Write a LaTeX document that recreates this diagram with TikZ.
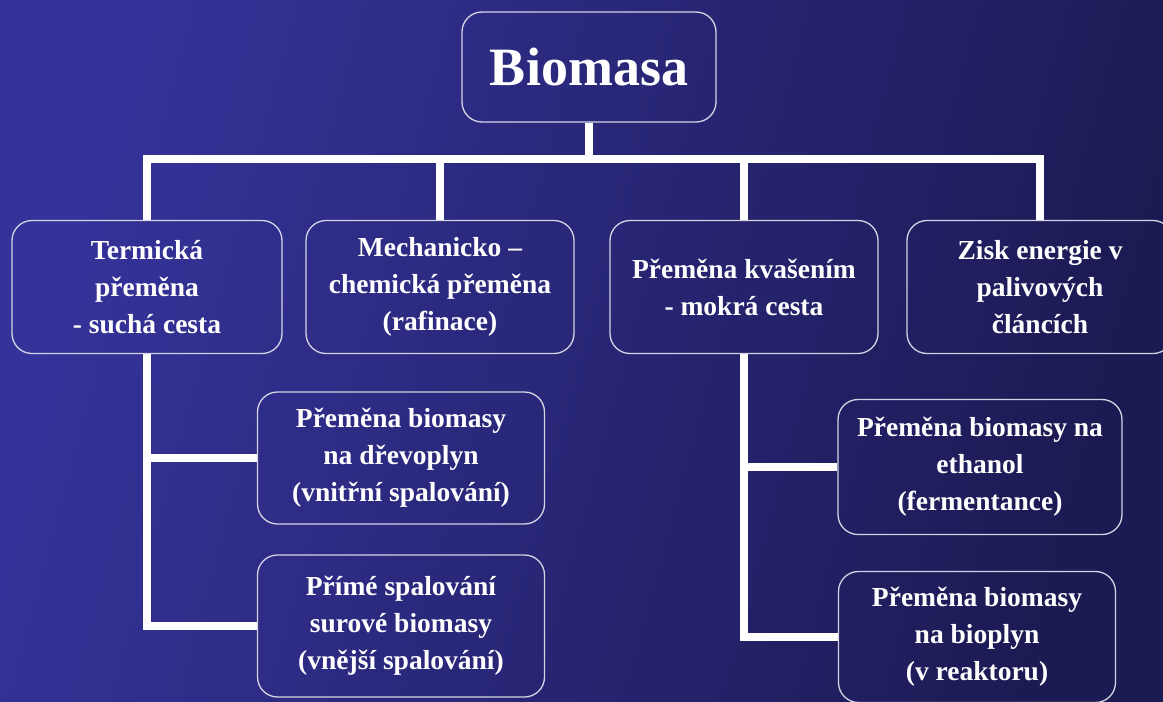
\documentclass[tikz,border=0pt]{standalone}
\usepackage{fontspec}
\setmainfont{Liberation Serif}
\usetikzlibrary{backgrounds}

\definecolor{bgdark}{HTML}{1C1A52}
\definecolor{bglight}{HTML}{35339A}
\definecolor{rim}{HTML}{D4D4E4}

\tikzset{
  box/.style={draw=rim, line width=1.3pt, rounded corners=20pt, text=white,
    align=center, inner sep=0pt, font=\bfseries\fontsize{27.5}{37}\selectfont},
  conn/.style={draw=white, line width=8pt, line join=miter},
}

\begin{document}
\begin{tikzpicture}[x=1pt, y=-1pt]
    \useasboundingbox (0,0) rectangle (1163,702);
    \clip (0,0) rectangle (1163,702);
    \node[box, minimum width=254pt, minimum height=110pt,
          font=\bfseries\fontsize{54}{60}\selectfont] (bio) at (589, 67) {Biomasa};
    \node[box, minimum width=270pt, minimum height=133pt] (term) at ( 147, 287) {Termická\\přeměna\\- suchá cesta};
    \node[box, minimum width=268pt, minimum height=133pt] (mech) at ( 440, 287) {Mechanicko --\\chemická přeměna\\(rafinace)};
    \node[box, minimum width=268pt, minimum height=133pt] (kvas) at ( 744, 287) {Přeměna kvašením\\- mokrá cesta};
    \node[box, minimum width=266pt, minimum height=133pt] (zisk) at (1040, 287) {Zisk energie v\\palivových\\článcích};
    \node[box, minimum width=287pt, minimum height=132pt] (drevo) at (401, 458) {Přeměna biomasy\\na dřevoplyn\\(vnitřní spalování)};
    \node[box, minimum width=287pt, minimum height=142pt] (prime) at (401, 626) {Přímé spalování\\surové biomasy\\(vnější spalování)};
    \node[box, minimum width=284pt, minimum height=135pt] (etha) at (980, 467) {Přeměna biomasy na\\ethanol\\(fermentance)};
    \node[box, minimum width=277pt, minimum height=131pt] (bioplyn) at (977, 637) {Přeměna biomasy\\na bioplyn\\(v reaktoru)};
    \path (bio.south) ++(0,36) coordinate (bar);

    \begin{scope}[on background layer]
      \shade[left color=bglight, right color=bgdark, shading angle=75] (0,0) rectangle (1163,702);
      % top level
      \draw[conn] (bio.south) -- (bar);
      \draw[conn] (term.north) |- (bar) -| (zisk.north);
      \draw[conn] (mech.north) -- (mech.north |- bar);
      \draw[conn] (kvas.north) -- (kvas.north |- bar);
      % dry branch
      \draw[conn] (term.south) |- (prime.west);
      \draw[conn] (term.south |- drevo.west) -- (drevo.west);
      % wet branch
      \draw[conn] (kvas.south) |- (bioplyn.west);
      \draw[conn] (kvas.south |- etha.west) -- (etha.west);
    \end{scope}
\end{tikzpicture}
\end{document}
